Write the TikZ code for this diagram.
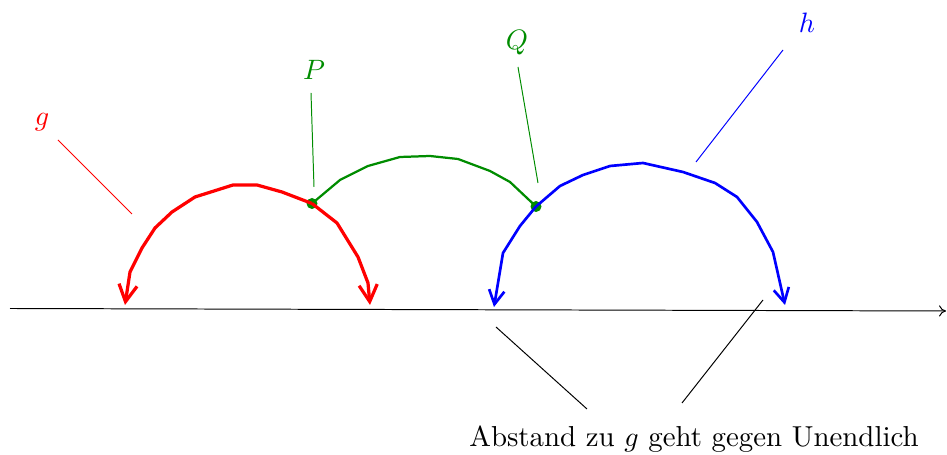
\documentclass[tikz,border=0pt]{standalone}
\usetikzlibrary{arrows.meta}
\definecolor{gg}{rgb}{0,0.55,0}
\begin{document}
\begin{tikzpicture}[x=0.3567pt,y=-0.3567pt,
  redc/.style={red,line width=1.15pt,line join=round},
  bluec/.style={blue,line width=0.95pt,line join=round},
  greenc/.style={gg,line width=0.8pt,line join=round},
  ptr/.style={line width=0.35pt},
  lbl/.style={inner sep=0pt,anchor=base,font=\fontsize{10.3}{12}\selectfont}]
\useasboundingbox (0,0) rectangle (947,455);
% axis
\coordinate (ax0) at (10,308.5);
\coordinate (ax1) at (946,311);
\draw[line width=0.35pt,-{To[length=2.5pt,width=4pt]}] (ax0) -- (ax1);
% key points
\coordinate (P) at (312,203.5);
\coordinate (Q) at (536,206.5);
\coordinate (g1) at (125,305);
\coordinate (g2) at (370,305);
\coordinate (h1) at (494,307);
\coordinate (h2) at (785,305);
% green
\draw[greenc] (P) -- (340,180) -- (368,166) -- (400,157) -- (430,156) -- (458,159) -- (490,171) -- (510,182) -- (Q);
\fill[gg] (P) circle[radius=5.5];
\fill[gg] (Q) circle[radius=5.5];
% red g
\draw[redc,-{Straight Barb[length=6pt,width=6.5pt]}] (P) -- (282,192) -- (257,185) -- (233,185) -- (195,197) -- (172,212) -- (155,228) -- (142,248) -- (130,272) -- (g1);
\draw[redc,-{Straight Barb[length=6pt,width=6.5pt]}] (P) -- (337,223) -- (358,257) -- (368,283) -- (g2);
% blue h
\draw[bluec,-{Straight Barb[length=5pt,width=5.5pt]}] (Q) -- (560,186) -- (583,175) -- (610,166) -- (643,163) -- (683,172) -- (715,183) -- (737,197) -- (757,222) -- (773,252) -- (h2);
\draw[bluec,-{Straight Barb[length=5pt,width=5.5pt]}] (Q) -- (520,226) -- (503,253) -- (h1);
% labels
\node[lbl,text=red] (lg) at (42,126) {$g$};
\node[lbl,text=gg] (lP) at (314,80) {$P$};
\node[lbl,text=gg] (lQ) at (517,50) {$Q$};
\node[lbl,text=blue] (lh) at (807,33) {$h$};
\node[lbl] (lt) at (694,447) {Abstand zu $g$ geht gegen Unendlich};
% pointers
\coordinate (rg0) at (58,140); \coordinate (rg1) at (132,214);
\draw[ptr,red] (rg0) -- (rg1);
\coordinate (pp0) at (311,93); \coordinate (pp1) at (314,187);
\draw[ptr,gg] (pp0) -- (pp1);
\coordinate (qq0) at (518,67); \coordinate (qq1) at (538,183);
\draw[ptr,gg] (qq0) -- (qq1);
\coordinate (hh0) at (783,50); \coordinate (hh1) at (696,162);
\draw[ptr,blue] (hh0) -- (hh1);
\coordinate (t0) at (587,409); \coordinate (t1) at (496,327);
\draw[ptr] (t0) -- (t1);
\coordinate (t2) at (682,403); \coordinate (t3) at (763,300);
\draw[ptr] (t2) -- (t3);
\end{tikzpicture}
\end{document}
